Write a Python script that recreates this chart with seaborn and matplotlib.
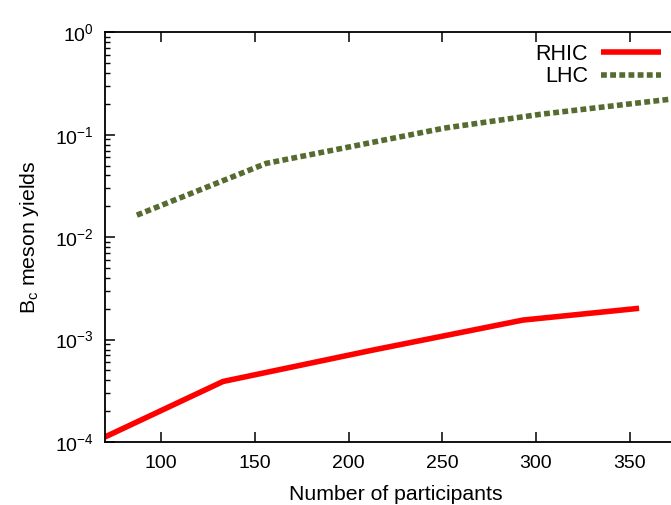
import matplotlib
matplotlib.use("Agg")
import matplotlib.pyplot as plt
import pandas as pd
import seaborn as sns
from matplotlib.ticker import LogLocator, NullFormatter, FixedLocator

# Bc meson yields versus number of participants
rhic_npart = [70, 133, 213, 293, 355]
rhic_yield = [1.12e-4, 3.9e-4, 7.9e-4, 1.55e-3, 2.02e-3]

lhc_npart = [87, 156, 251, 302, 383]
lhc_yield = [1.64e-2, 5.25e-2, 0.116, 0.158, 0.235]

x_ticks = [100, 150, 200, 250, 300, 350]

sns.set_theme(style="ticks")
plt.rcParams["font.family"] = ["Liberation Sans", "DejaVu Sans"]
plt.rcParams["mathtext.fontset"] = "custom"
plt.rcParams["mathtext.rm"] = "Liberation Sans"
plt.rcParams["mathtext.it"] = "Liberation Sans:italic"
plt.rcParams["mathtext.bf"] = "Liberation Sans:bold"
for key in ("text.color", "axes.labelcolor", "xtick.color", "ytick.color",
            "axes.edgecolor"):
    plt.rcParams[key] = "black"

rhic = pd.DataFrame({"npart": rhic_npart, "yield": rhic_yield})
lhc = pd.DataFrame({"npart": lhc_npart, "yield": lhc_yield})

W, H = 671, 505
fig = plt.figure(figsize=(W / 100, H / 100), dpi=100)
px_per_unit = 93.7 / 50
x_min, x_max = 70, 380
left, top, bottom = 105, 32.3, 442
ax = fig.add_axes([left / W, (H - bottom) / H,
                   (x_max - x_min) * px_per_unit / W, (bottom - top) / H])

sns.lineplot(data=rhic, x="npart", y="yield", ax=ax, color="#ff0000",
             linewidth=4, label="RHIC", solid_capstyle="butt")
sns.lineplot(data=lhc, x="npart", y="yield", ax=ax, color="#556b2f",
             linewidth=4, label="LHC")
lhc_line = ax.get_lines()[1]
lhc_line.set_dashes((1.05, 0.6))
lhc_line.set_dash_capstyle("butt")

ax.set_yscale("log")
ax.set_xlim(x_min, x_max)
ax.set_ylim(1e-4, 1)

ax.xaxis.set_major_locator(FixedLocator(x_ticks))
ax.yaxis.set_major_locator(LogLocator(base=10, numticks=10))
ax.yaxis.set_minor_locator(LogLocator(base=10, subs=range(2, 10), numticks=50))
ax.yaxis.set_minor_formatter(NullFormatter())

ax.tick_params(axis="both", which="major", direction="in", length=7,
               width=1.1, labelsize=14, top=True, right=True, color="black",
               labelcolor="black")
ax.tick_params(axis="y", which="minor", direction="in", length=3.5,
               width=1.0, right=True, color="black")
ax.tick_params(axis="x", which="minor", bottom=False, top=False)
ax.tick_params(axis="x", which="major", pad=9)
ax.tick_params(axis="y", which="major", pad=8)

for sp in ax.spines.values():
    sp.set_linewidth(1.3)
    sp.set_color("black")

ax.set_xlabel("Number of participants", fontsize=15.3, labelpad=10)
ax.set_ylabel(r"B$_\mathrm{c}$ meson yields", fontsize=15.3, labelpad=10)

ax.legend(loc="upper right", bbox_to_anchor=(661 / W, (H - 44) / H),
          bbox_transform=fig.transFigure, frameon=False, markerfirst=False,
          fontsize=15.5, handlelength=2.8, handletextpad=0.6,
          labelspacing=0.05, borderpad=0, borderaxespad=0)

fig.savefig("out.png", dpi=100)
